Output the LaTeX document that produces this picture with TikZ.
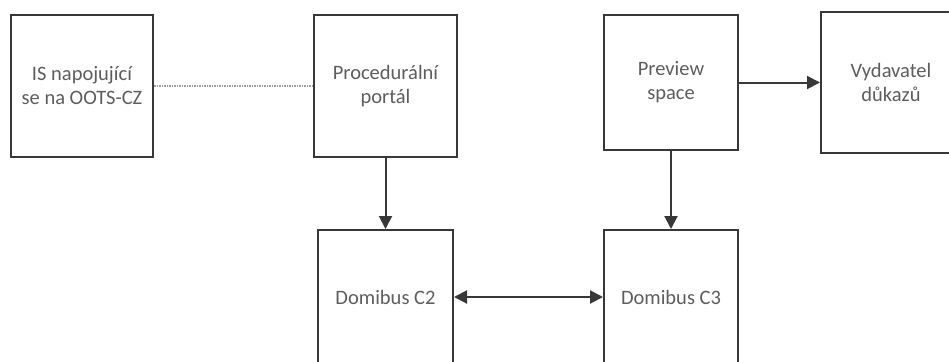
\documentclass[tikz,border=0pt]{standalone}
\usepackage{fontspec}
\setmainfont{Carlito}
\usepackage{tikz}
\usetikzlibrary{arrows.meta,positioning}
\definecolor{boxline}{HTML}{383838}
\definecolor{boxtext}{HTML}{5E5E5E}

\begin{document}
\begin{tikzpicture}[x=1pt,y=-1pt,
	box/.style={draw=boxline,line width=2pt,align=center,text=boxtext,
		font=\fontsize{20.5}{24}\selectfont,inner sep=0pt},
	link/.style={draw=boxline,line width=2pt},
	boxtip/.tip={Triangle[length=13pt,width=13pt]}]
	\clip (0,0) rectangle (949,361);
	\fill[white] (0,0) rectangle (949,361);

	\node[box,minimum width=142pt,minimum height=142pt] (1) at (82,86) {IS napojující\\se na OOTS-CZ};
	\node[box,minimum width=143pt,minimum height=142pt] (2) at (385.5,86) {Procedurální\\portál};
	\node[box,minimum width=134pt,minimum height=135pt] (3) at (671,82.5) {Preview\\space};
	\node[box,minimum width=140pt,minimum height=141pt] (4) at (891,82.5) {Vydavatel\\důkazů};
	\node[box,minimum width=135pt,minimum height=134pt] (5) at (385.5,297) {Domibus C2};
	\node[box,minimum width=134pt,minimum height=134pt] (6) at (671,297) {Domibus C3};

	\path[draw=gray!75,line width=1.3pt,dash pattern=on 1.5pt off 1pt] (1) -- (2);
	\path[link,-boxtip] (3) -- (4);
	\path[link,-boxtip] (2) -- (5);
	\path[link,-boxtip] (3) -- (6);
	\path[link,boxtip-boxtip] (5) -- (6);
\end{tikzpicture}
\end{document}
